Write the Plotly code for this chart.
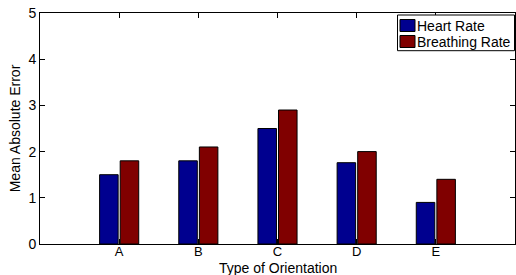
import plotly.graph_objects as go

categories = ["A", "B", "C", "D", "E"]
positions = [1, 2, 3, 4, 5]
heart_rate = [1.5, 1.8, 2.5, 1.76, 0.9]
breathing_rate = [1.8, 2.1, 2.9, 2.0, 1.4]
y_ticks = [0, 1, 2, 3, 4, 5]
series_names = ["Heart Rate", "Breathing Rate"]
series_colors = ["#00008F", "#800000"]
x_title = "Type of Orientation"
y_title = "Mean Absolute Error"

font = "Liberation Sans, Arial, Helvetica, sans-serif"

W, H = 516, 275
ML, MR, MT, MB = 40, 1, 13, 31
PW, PH = W - ML - MR, H - MT - MB


def px_x(px):
    return (px - ML) / PW


def px_y(py):
    return (H - MB - py) / PH


fig = go.Figure()
for name, vals, col in zip(series_names, [heart_rate, breathing_rate], series_colors):
    fig.add_trace(go.Bar(x=positions, y=vals, name=name, showlegend=False,
                         marker=dict(color=col, line=dict(color="black", width=1))))

axis_common = dict(showline=True, linecolor="black", linewidth=1, mirror="ticks",
                   ticks="inside", ticklen=5, tickcolor="black", showgrid=False,
                   zeroline=False)

# custom legend (box, swatches, labels)
shapes = [dict(type="rect", xref="paper", yref="paper",
               x0=px_x(397.5), x1=px_x(514.5), y0=px_y(50.7), y1=px_y(15),
               line=dict(color="black", width=1), fillcolor="white", layer="above")]
annotations = []
for i, (name, col) in enumerate(zip(series_names, series_colors)):
    top = 19.5 + i * 16
    shapes.append(dict(type="rect", xref="paper", yref="paper",
                       x0=px_x(400), x1=px_x(415), y0=px_y(top + 12), y1=px_y(top),
                       line=dict(color="black", width=1), fillcolor=col, layer="above"))
    annotations.append(dict(xref="paper", yref="paper", x=px_x(415), y=px_y(top + 6),
                            xanchor="left", yanchor="middle", showarrow=False,
                            text=name, font=dict(family=font, size=14, color="black")))

# x-axis title
annotations.append(dict(xref="paper", yref="paper", x=0.5, y=px_y(258.5),
                        xanchor="center", yanchor="top", showarrow=False,
                        borderpad=0, text=x_title,
                        font=dict(family=font, size=14, color="black")))

fig.update_layout(
    width=W, height=H,
    margin=dict(l=ML, r=MR, t=MT, b=MB),
    paper_bgcolor="white", plot_bgcolor="white",
    barmode="group", bargap=0.48, bargroupgap=0.1,
    font=dict(family=font, size=14, color="black"),
    xaxis=dict(range=[0, 6], tickvals=positions, ticktext=categories,
               ticklabelstandoff=-5,
               tickfont=dict(family=font, size=13, color="black"),
               **axis_common),
    yaxis=dict(range=[0, 5], tickvals=y_ticks,
               tickfont=dict(family=font, size=14, color="black"),
               title=dict(text=y_title, standoff=4,
                          font=dict(family=font, size=14)),
               **axis_common),
    shapes=shapes,
    annotations=annotations,
    showlegend=False,
)

fig.write_html("out.html", config={"displayModeBar": False})

with open("out.html", "r", encoding="utf-8") as f:
    html = f.read()
html = html.replace("<head>", "<head><style>html,body{margin:0;padding:0;overflow:hidden}</style>", 1)
with open("out.html", "w", encoding="utf-8") as f:
    f.write(html)
